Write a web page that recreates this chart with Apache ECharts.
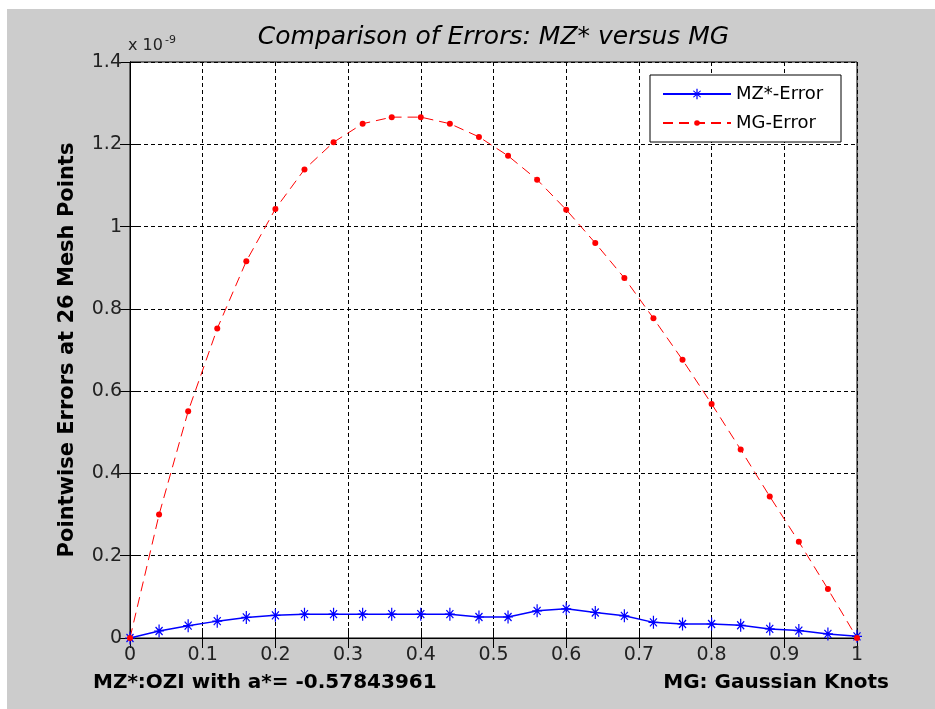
<!DOCTYPE html>
<html>
<head>
<meta charset="utf-8">
<script src="https://cdn.jsdelivr.net/npm/echarts@6/dist/echarts.min.js"></script>
<style>
  html, body { margin: 0; padding: 0; background: #fff; }
  #chart { position: absolute; left: 7px; top: 9px; width: 928px; height: 700px; background: #cccccc; }
</style>
</head>
<body>
<div id="chart"></div>
<script>
// 26 mesh points on [0, 1]
const meshX = [0, 0.04, 0.08, 0.12, 0.16, 0.2, 0.24, 0.28, 0.32, 0.36, 0.4, 0.44, 0.48,
  0.52, 0.56, 0.6, 0.64, 0.68, 0.72, 0.76, 0.8, 0.84, 0.88, 0.92, 0.96, 1]

// pointwise errors, in units of 1e-9
const mzError = [0, 0.017, 0.030, 0.041, 0.050, 0.055, 0.058, 0.058, 0.058, 0.058, 0.058, 0.058, 0.051,
  0.051, 0.066, 0.071, 0.062, 0.054, 0.038, 0.034, 0.034, 0.031, 0.022, 0.018, 0.010, 0.004]
const mgError = [0, 0.300, 0.551, 0.752, 0.916, 1.043, 1.139, 1.205, 1.250, 1.266, 1.266, 1.250, 1.218,
  1.172, 1.114, 1.041, 0.960, 0.875, 0.777, 0.676, 0.569, 0.458, 0.344, 0.234, 0.119, 0]

const seriesNames = ['MZ*-Error', 'MG-Error']

// matlab style '*' marker
const starPath = 'path://M4.4 0L5.6 0L5.6 13L4.4 13Z' +
  'M0 5.9L10 5.9L10 7.1L0 7.1Z' +
  'M1.95 2.1L8.95 10.1L8.05 10.9L1.05 2.9Z' +
  'M8.05 2.1L8.95 2.9L1.95 10.9L1.05 10.1Z' +
  'M3.8 5.3L6.2 5.3L6.2 7.7L3.8 7.7Z'

const font = 'DejaVu Sans'
const chart = echarts.init(document.getElementById('chart'))

const pairs = (ys) => meshX.map((x, i) => [x, ys[i]])
const fmt = (v) => String(+v.toFixed(1))

// two legends so each icon gets its own marker size; the box is a graphic rect
const legendBase = {
  orient: 'vertical',
  left: 643,
  itemWidth: 68, itemGap: 0,
  textStyle: { fontFamily: font, fontSize: 18, color: '#000' }
}

chart.setOption({
  animation: false,
  grid: {
    left: 123, top: 53, width: 727, height: 576,
    show: true, backgroundColor: '#fff', borderColor: '#000', borderWidth: 1
  },
  legend: [
    Object.assign({}, legendBase, { top: 66, padding: [10, 12, 0, 12], itemHeight: 13, data: [seriesNames[0]] }),
    Object.assign({}, legendBase, { top: 105, padding: [0, 12, 0, 12], itemHeight: 7, data: [seriesNames[1]] })
  ],
  xAxis: [
    {
      type: 'value', min: 0, max: 1, interval: 0.1,
      axisLine: { show: true, lineStyle: { color: '#000' } },
      axisTick: { inside: true, length: 10, lineStyle: { color: '#000' } },
      axisLabel: { margin: 8, fontFamily: font, fontSize: 19, color: '#222', formatter: fmt },
      splitLine: { show: true, lineStyle: { color: '#000', type: [4, 3] } }
    },
    {
      type: 'value', position: 'top', min: 0, max: 1, interval: 0.1,
      axisLine: { show: true, lineStyle: { color: '#000' } },
      axisTick: { inside: true, length: 10, lineStyle: { color: '#000' } },
      axisLabel: { show: false },
      splitLine: { show: false }
    }
  ],
  yAxis: [
    {
      type: 'value', min: 0, max: 1.4, interval: 0.2,
      axisLine: { show: true, lineStyle: { color: '#000' } },
      axisTick: { inside: true, length: 10, lineStyle: { color: '#000' } },
      axisLabel: { margin: 8, fontFamily: font, fontSize: 19, color: '#222', formatter: fmt },
      splitLine: { show: true, lineStyle: { color: '#000', type: [4, 3] } }
    },
    {
      type: 'value', position: 'right', min: 0, max: 1.4, interval: 0.2,
      axisLine: { show: true, lineStyle: { color: '#000' } },
      axisTick: { inside: true, length: 10, lineStyle: { color: '#000' } },
      axisLabel: { show: false },
      splitLine: { show: false }
    }
  ],
  series: [
    {
      name: seriesNames[0],
      type: 'line',
      data: pairs(mzError),
      symbol: starPath,
      symbolSize: [10, 13],
      showAllSymbol: true,
      itemStyle: { color: '#0000ff' },
      lineStyle: { color: '#0000ff', width: 1.5 }
    },
    {
      name: seriesNames[1],
      type: 'line',
      data: pairs(mgError),
      symbol: 'circle',
      symbolSize: 6,
      showAllSymbol: true,
      itemStyle: { color: '#ff0000' },
      lineStyle: { color: '#ff0000', width: 1, type: [10, 6] }
    }
  ],
  graphic: [
    {
      type: 'rect', z: 3,
      shape: { x: 643, y: 66, width: 191, height: 67 },
      style: { fill: '#fff', stroke: '#000', lineWidth: 1 }
    },
    {
      type: 'text', x: 486.5, y: 28,
      style: {
        text: 'Comparison of Errors: MZ* versus MG',
        font: 'italic 25px "DejaVu Sans"', fill: '#000',
        textAlign: 'center', textVerticalAlign: 'middle'
      }
    },
    {
      type: 'text', x: 121, y: 45,
      style: { text: 'x 10', font: '16px "DejaVu Sans"', fill: '#222', textAlign: 'left', textVerticalAlign: 'bottom' }
    },
    {
      type: 'text', x: 158, y: 37,
      style: { text: '-9', font: '11px "DejaVu Sans"', fill: '#222', textAlign: 'left', textVerticalAlign: 'bottom' }
    },
    {
      type: 'text', x: 61, y: 341, rotation: Math.PI / 2,
      style: {
        text: 'Pointwise Errors at 26 Mesh Points',
        font: 'bold 21px "DejaVu Sans"', fill: '#000',
        textAlign: 'center', textVerticalAlign: 'middle'
      }
    },
    {
      type: 'text', x: 86, y: 674,
      style: {
        text: 'MZ*:OZI with a*= -0.57843961',
        font: 'bold 20px "DejaVu Sans"', fill: '#000',
        textAlign: 'left', textVerticalAlign: 'middle'
      }
    },
    {
      type: 'text', x: 882, y: 674,
      style: {
        text: 'MG: Gaussian Knots',
        font: 'bold 20px "DejaVu Sans"', fill: '#000',
        textAlign: 'right', textVerticalAlign: 'middle'
      }
    }
  ]
})
</script>
</body>
</html>
